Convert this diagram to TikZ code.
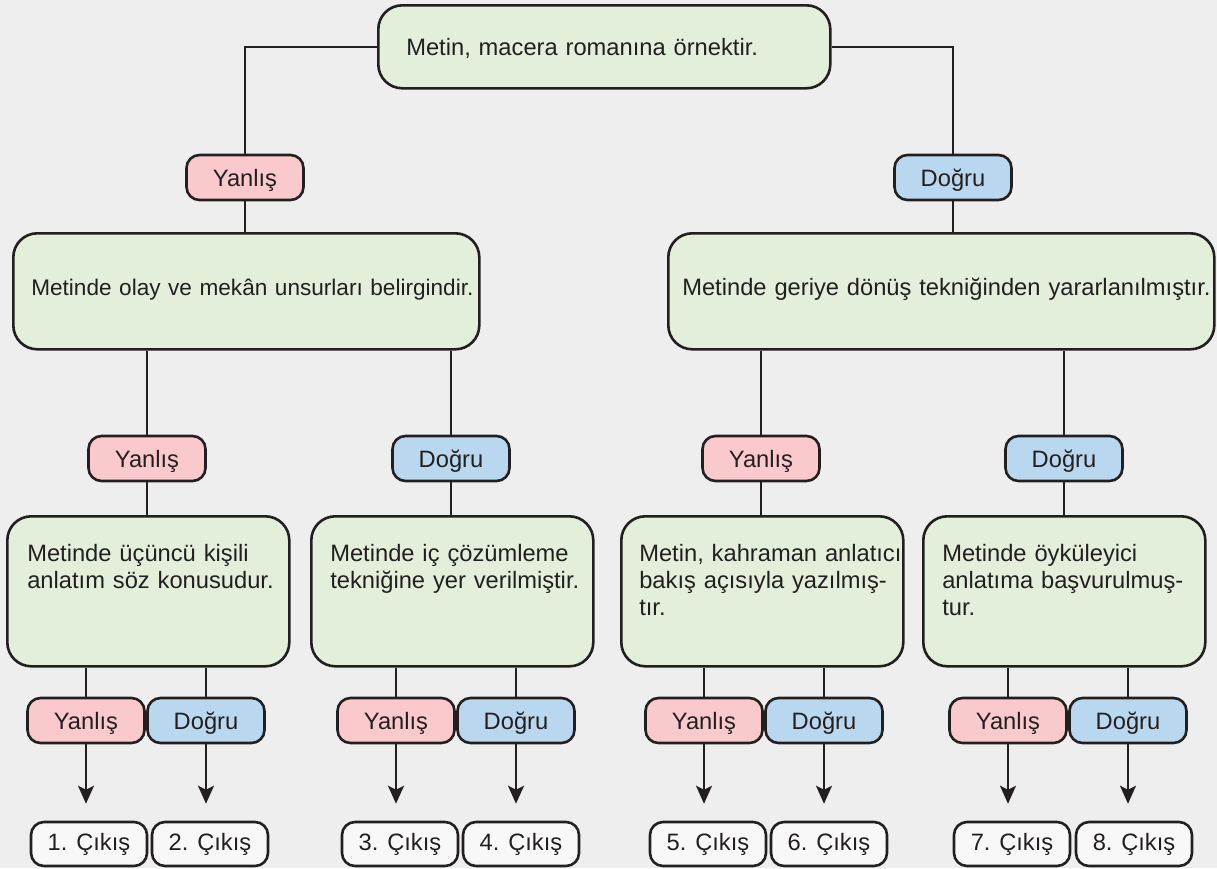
\documentclass[tikz,border=0pt]{standalone}
\usepackage{fontspec}
\setmainfont{Liberation Sans}
\usetikzlibrary{arrows.meta}
\definecolor{bgc}{HTML}{EEEEEE}
\definecolor{inkc}{HTML}{231F20}
\definecolor{greenc}{HTML}{E3EFDA}
\definecolor{pinkc}{HTML}{F9C9CB}
\definecolor{bluec}{HTML}{B9D8EF}
\definecolor{exitc}{HTML}{F8F8F8}
\begin{document}
\begin{tikzpicture}[x=1pt, y=-1pt,
        every node/.style={font=\fontsize{23.7}{27}\selectfont, text=inkc, inner sep=0pt},
        pad/.style={execute at begin node={\leftskip=#1pt\relax\rightskip=0pt minus 200pt\relax\hyphenpenalty=10000\relax}},
        qbox/.style={draw=inkc, line width=2.6pt, fill=greenc, rounded corners=24pt, anchor=north west, align=left},
        tag/.style={draw=inkc, line width=2.6pt, rounded corners=13pt, minimum width=117pt, text height=31pt, text depth=14pt},
        yan/.style={tag, fill=pinkc},
        dog/.style={tag, fill=bluec},
        exitbox/.style={draw=inkc, line width=2.6pt, rounded corners=13pt, fill=exitc, minimum width=116pt, text height=28pt, text depth=16pt},
        link/.style={draw=inkc, line width=2.2pt},
        arr/.style={link, -{Stealth[length=18pt, width=16pt, inset=4pt]}, shorten >=17pt}]
        \fill[bgc] (0,0) rectangle (1217,868);
        \node[qbox, text width=452pt, text height=50pt, text depth=33pt, pad=28] (top) at (377,4) {Metin, macera romanına örnektir.};
        \node[yan] (yan0) at (245,177.5) {Yanlış};
        \node[dog] (dog0) at (953,177.5) {Doğru};
        \node[qbox, text width=466pt, text height=62pt, text depth=54pt, pad=18, font=\fontsize{22.6}{27}\selectfont] (bigL) at (12,232) {Metinde olay ve mekân unsurları belirgindir.};
        \node[qbox, text width=546pt, text height=62pt, text depth=54pt, pad=14] (bigR) at (667,232) {Metinde geriye dönüş tekniğinden yararlanılmıştır.};
        \node[yan] (yan1) at (147,458.5) {Yanlış};
        \node[dog] (dog1) at (451,458.5) {Doğru};
        \node[yan] (yan2) at (761,458.5) {Yanlış};
        \node[dog] (dog2) at (1064,458.5) {Doğru};
        \node[qbox, text width=282pt, text height=45pt, text depth=105pt, pad=20] (q1) at (6,515) {Metinde üçüncü kişili\\anlatım söz konusudur.};
        \node[qbox, text width=282pt, text height=45pt, text depth=105pt, pad=19] (q2) at (310,515) {Metinde iç çözümleme\\tekniğine yer verilmiştir.};
        \node[qbox, text width=282pt, text height=45pt, text depth=105pt, pad=18] (q3) at (620,515) {Metin, kahraman anlatıcı\\bakış açısıyla yazılmış-\\tır.};
        \node[qbox, text width=282pt, text height=45pt, text depth=105pt, pad=19] (q4) at (922,515) {Metinde öyküleyici\\anlatıma başvurulmuş-\\tur.};
        \node[yan] (a1) at (86,720.5) {Yanlış};
        \node[dog] (b1) at (206,720.5) {Doğru};
        \node[yan] (a2) at (396,720.5) {Yanlış};
        \node[dog] (b2) at (516,720.5) {Doğru};
        \node[yan] (a3) at (704,720.5) {Yanlış};
        \node[dog] (b3) at (824,720.5) {Doğru};
        \node[yan] (a4) at (1008,720.5) {Yanlış};
        \node[dog] (b4) at (1128,720.5) {Doğru};
        \node[exitbox] (c1) at (89,844) {1. Çıkış};
        \node[exitbox] (c2) at (210,844) {2. Çıkış};
        \node[exitbox] (c3) at (400,844) {3. Çıkış};
        \node[exitbox] (c4) at (521,844) {4. Çıkış};
        \node[exitbox] (c5) at (708,844) {5. Çıkış};
        \node[exitbox] (c6) at (829,844) {6. Çıkış};
        \node[exitbox] (c7) at (1012,844) {7. Çıkış};
        \node[exitbox] (c8) at (1134,844) {8. Çıkış};
        \draw[link] (top) -| (yan0);
        \draw[link] (top) -| (dog0);
        \draw[link] (yan0) -- (yan0 |- bigL.north);
        \draw[link] (dog0) -- (dog0 |- bigR.north);
        \draw[link] (bigL.south -| yan1) -- (yan1);
        \draw[link] (bigL.south -| dog1) -- (dog1);
        \draw[link] (bigR.south -| yan2) -- (yan2);
        \draw[link] (bigR.south -| dog2) -- (dog2);
        \draw[link] (yan1) -- (yan1 |- q1.north);
        \draw[link] (dog1) -- (dog1 |- q2.north);
        \draw[link] (yan2) -- (yan2 |- q3.north);
        \draw[link] (dog2) -- (dog2 |- q4.north);
        \draw[link] (q1.south -| a1) -- (a1);
        \draw[link] (q1.south -| b1) -- (b1);
        \draw[link] (q2.south -| a2) -- (a2);
        \draw[link] (q2.south -| b2) -- (b2);
        \draw[link] (q3.south -| a3) -- (a3);
        \draw[link] (q3.south -| b3) -- (b3);
        \draw[link] (q4.south -| a4) -- (a4);
        \draw[link] (q4.south -| b4) -- (b4);
        \draw[arr] (a1) -- (a1 |- c1.north);
        \draw[arr] (b1) -- (b1 |- c2.north);
        \draw[arr] (a2) -- (a2 |- c3.north);
        \draw[arr] (b2) -- (b2 |- c4.north);
        \draw[arr] (a3) -- (a3 |- c5.north);
        \draw[arr] (b3) -- (b3 |- c6.north);
        \draw[arr] (a4) -- (a4 |- c7.north);
        \draw[arr] (b4) -- (b4 |- c8.north);
\end{tikzpicture}
\end{document}
